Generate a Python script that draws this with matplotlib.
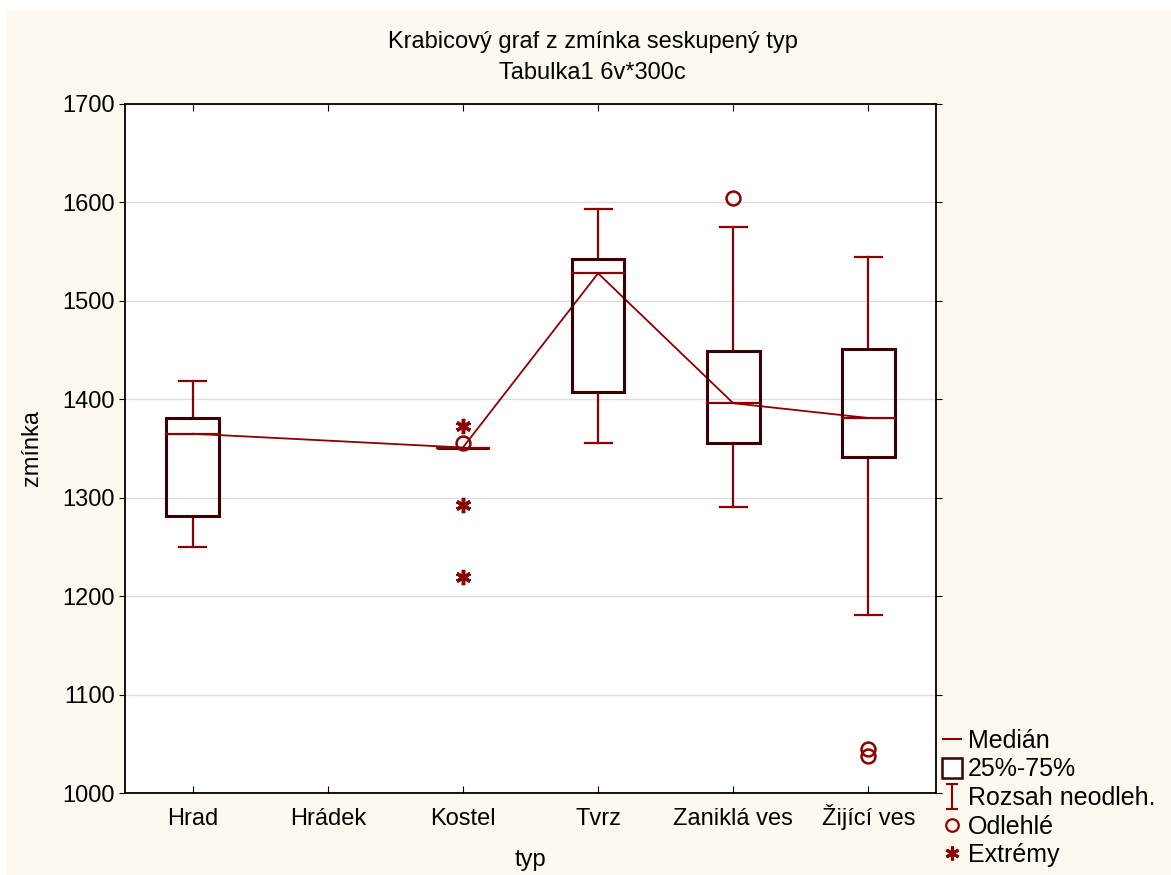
import matplotlib.pyplot as plt
from matplotlib.lines import Line2D
from matplotlib.patches import Rectangle
from matplotlib.path import Path

plt.rcParams['font.family'] = ['Liberation Sans', 'DejaVu Sans']

# data
categories = ['Hrad', 'Hrádek', 'Kostel', 'Tvrz', 'Zaniklá ves', 'Žijící ves']
medians    = [1365, None, 1351, 1528, 1396, 1381]
q1         = [1281, None, 1351, 1407, 1356, 1341]
q3         = [1381, None, 1351, 1543, 1449, 1451]
whisk_lo   = [1250, None, 1351, 1356, 1291, 1181]
whisk_hi   = [1419, None, 1351, 1593, 1575, 1545]
outliers   = [[], [], [1356], [], [1604], [1045, 1038]]
extremes   = [[], [], [1373, 1293, 1219], [], [], []]

red = '#8b0000'
dark = '#3d0000'
cream = '#fdf9ee'
fs = 17

fig = plt.figure(figsize=(11.71, 8.75), dpi=100, facecolor='white')
fig.patches.append(Rectangle((6 / 1171, 0), 1, 865 / 875, transform=fig.transFigure,
                             facecolor=cream, edgecolor='none', zorder=-10))
ax = fig.add_axes([125 / 1171, 1 - 793 / 875, 811 / 1171, 689 / 875])
ax.set_facecolor('white')

box_w = 0.39
cap_w = 0.2
pos = range(1, len(categories) + 1)

# line through the medians
mx = [p for p, m in zip(pos, medians) if m is not None]
my = [m for m in medians if m is not None]
ax.plot(mx, my, color=red, lw=1.3, zorder=3)

for p, m, lo, hi, wl, wh, outs, ext in zip(pos, medians, q1, q3, whisk_lo, whisk_hi, outliers, extremes):
    if m is None:
        continue
    if wh > hi:
        ax.plot([p, p], [hi, wh], color=red, lw=1.6, zorder=2)
        ax.plot([p - cap_w / 2, p + cap_w / 2], [wh, wh], color=red, lw=1.6, zorder=2)
    if wl < lo:
        ax.plot([p, p], [wl, lo], color=red, lw=1.6, zorder=2)
        ax.plot([p - cap_w / 2, p + cap_w / 2], [wl, wl], color=red, lw=1.6, zorder=2)
    ax.add_patch(Rectangle((p - box_w / 2, lo), box_w, hi - lo, facecolor='none',
                           edgecolor=dark, lw=2.2, zorder=4))
    ax.plot([p - box_w / 2, p + box_w / 2], [m, m], color=red, lw=1.6, zorder=5)
    if outs:
        ax.plot([p] * len(outs), outs, 'o', ms=10, mfc='none', mec=red, mew=1.8, zorder=6)
    if ext:
        ax.plot([p] * len(ext), ext, marker=(6, 2, 0), ls='none', ms=11, mec=red, mew=2.5, zorder=6)

ax.set_xlim(0.5, len(categories) + 0.5)
ax.set_ylim(1000, 1700)
ax.set_xticks(list(pos))
ax.set_xticklabels(categories, fontsize=fs)
for lbl in ax.get_xticklabels():
    lbl.set_verticalalignment('baseline')
ax.set_yticks(range(1000, 1701, 100))
ax.tick_params(axis='y', labelsize=fs, direction='out', length=4, right=True)
ax.tick_params(axis='x', direction='in', length=5, top=True, pad=23)
ax.yaxis.grid(True, color='#dcdcdc', lw=1)
ax.set_axisbelow(True)
for s in ax.spines.values():
    s.set_color('black')
    s.set_linewidth(1.3)

ax.set_xlabel('typ', fontsize=fs, labelpad=14)
ax.set_ylabel('zmínka', fontsize=fs, labelpad=14)

fig.text(0.506, 1 - 42 / 875, 'Krabicový graf z zmínka seskupený typ', ha='center', va='center', fontsize=fs)
fig.text(0.506, 1 - 73 / 875, 'Tabulka1 6v*300c', ha='center', va='center', fontsize=fs)

# legend
ibeam = Path([(-0.5, -1), (0.5, -1), (0, -1), (0, 1), (-0.5, 1), (0.5, 1)],
             [Path.MOVETO, Path.LINETO, Path.MOVETO, Path.LINETO, Path.MOVETO, Path.LINETO])
handles = [
    Line2D([], [], color=red, lw=1.5),
    Line2D([], [], marker='s', ls='none', ms=15, mfc='white', mec=dark, mew=1.8),
    Line2D([], [], marker=ibeam, ls='none', ms=18, mec=red, mew=1.5),
    Line2D([], [], marker='o', ls='none', ms=9, mfc='none', mec=red, mew=1.6),
    Line2D([], [], marker=(6, 2, 0), ls='none', ms=10, mec=red, mew=2.2),
]
labels = ['Medián', '25%-75%', 'Rozsah neodleh.', 'Odlehlé', 'Extrémy']
fig.legend(handles, labels, loc='lower left', bbox_to_anchor=(943 / 1171, 8 / 875),
           frameon=False, fontsize=18, handlelength=0.7, handletextpad=0.3,
           labelspacing=0.18, borderaxespad=0, borderpad=0)

fig.savefig('out.png', dpi=100, facecolor=fig.get_facecolor())
